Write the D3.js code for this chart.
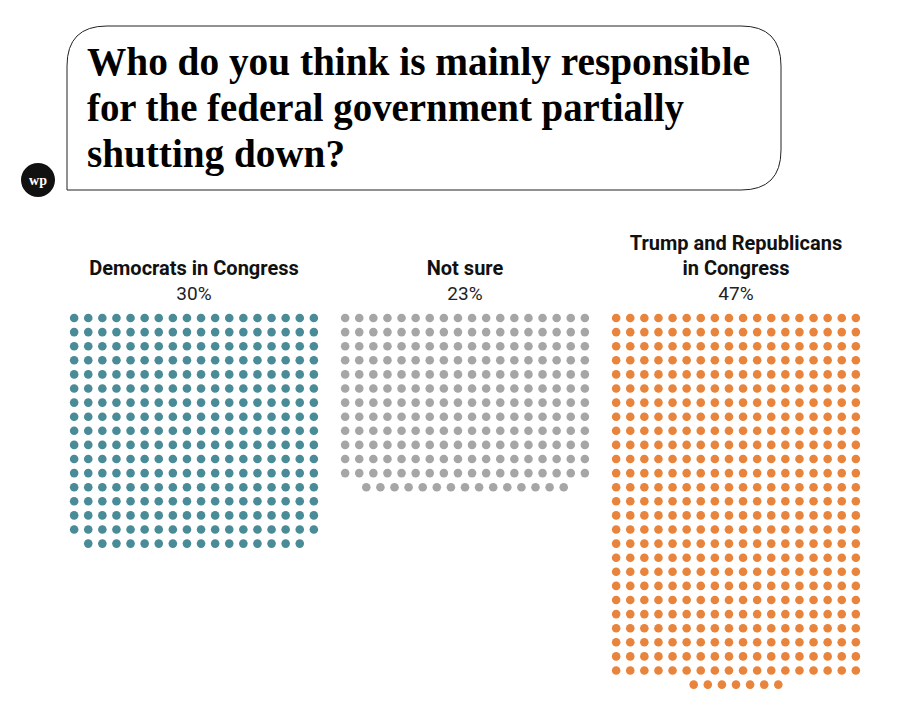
<!DOCTYPE html><html><head><meta charset="utf-8">
<script src="https://cdn.jsdelivr.net/npm/d3@7"></script>
<style>body{margin:0;background:#fff}</style></head><body>
<script>
const categories=[["Democrats in Congress"],["Not sure"],["Trump and Republicans","in Congress"]];
const percents=["30%","23%","47%"];
const dotCounts=[304,231,475];
const colors=["#4a8b98","#a6a6a6","#e8843c"];
const titleLines=["Who do you think is mainly responsible","for the federal government partially","shutting down?"];
const cols=18, step=14.1, r=4.3;
const svg=d3.select("body").append("svg").attr("width",909).attr("height",726);
svg.append("path").attr("d","M67,190 L67,66 Q67,26 107,26 L741,26 Q781,26 781,66 L781,150 Q781,190 741,190 Z")
 .attr("fill","none").attr("stroke","#222").attr("stroke-width",1);
svg.selectAll(".t").data(titleLines).join("text").attr("x",87).attr("y",(d,i)=>75+i*46)
 .attr("font-family","Liberation Serif, serif").attr("font-weight","bold").attr("font-size",39)
 .attr("textLength",(d,i)=>[663,597,258][i]).attr("lengthAdjust","spacingAndGlyphs").text(d=>d);
svg.append("circle").attr("cx",38).attr("cy",180).attr("r",17).attr("fill","#111");
svg.append("text").attr("x",38).attr("y",185).attr("text-anchor","middle").attr("fill","#fff")
 .attr("font-family","Liberation Serif, serif").attr("font-weight","bold").attr("font-size",14).text("wp");
const centers=d3.scalePoint().domain([0,1,2]).range([194,736]);
const yRow=d3.scaleLinear().domain([0,1]).range([318,318+step]);
categories.forEach((lab,k)=>{
  const cx=centers(k);
  const g=svg.append("g");
  lab.forEach((l,j)=>g.append("text").attr("x",cx).attr("y",275-(lab.length-1-j)*25).attr("text-anchor","middle")
   .attr("font-family","Roboto, sans-serif").attr("font-weight","bold").attr("font-size",20).attr("fill","#111").text(l));
  g.append("text").attr("x",cx).attr("y",300).attr("text-anchor","middle").attr("font-family","Roboto, sans-serif")
   .attr("font-size",19).attr("fill","#222").text(percents[k]);
  const n=dotCounts[k], full=Math.floor(n/cols), rem=n%cols;
  const dots=d3.range(n).map(i=>{const row=Math.floor(i/cols),c=i%cols;const inRow=row<full?cols:rem;
    return {x:cx+(c-(inRow-1)/2)*step,y:yRow(row)};});
  g.selectAll("circle").data(dots).join("circle").attr("cx",d=>d.x).attr("cy",d=>d.y).attr("r",r).attr("fill",colors[k]);
});
</script></body></html>
